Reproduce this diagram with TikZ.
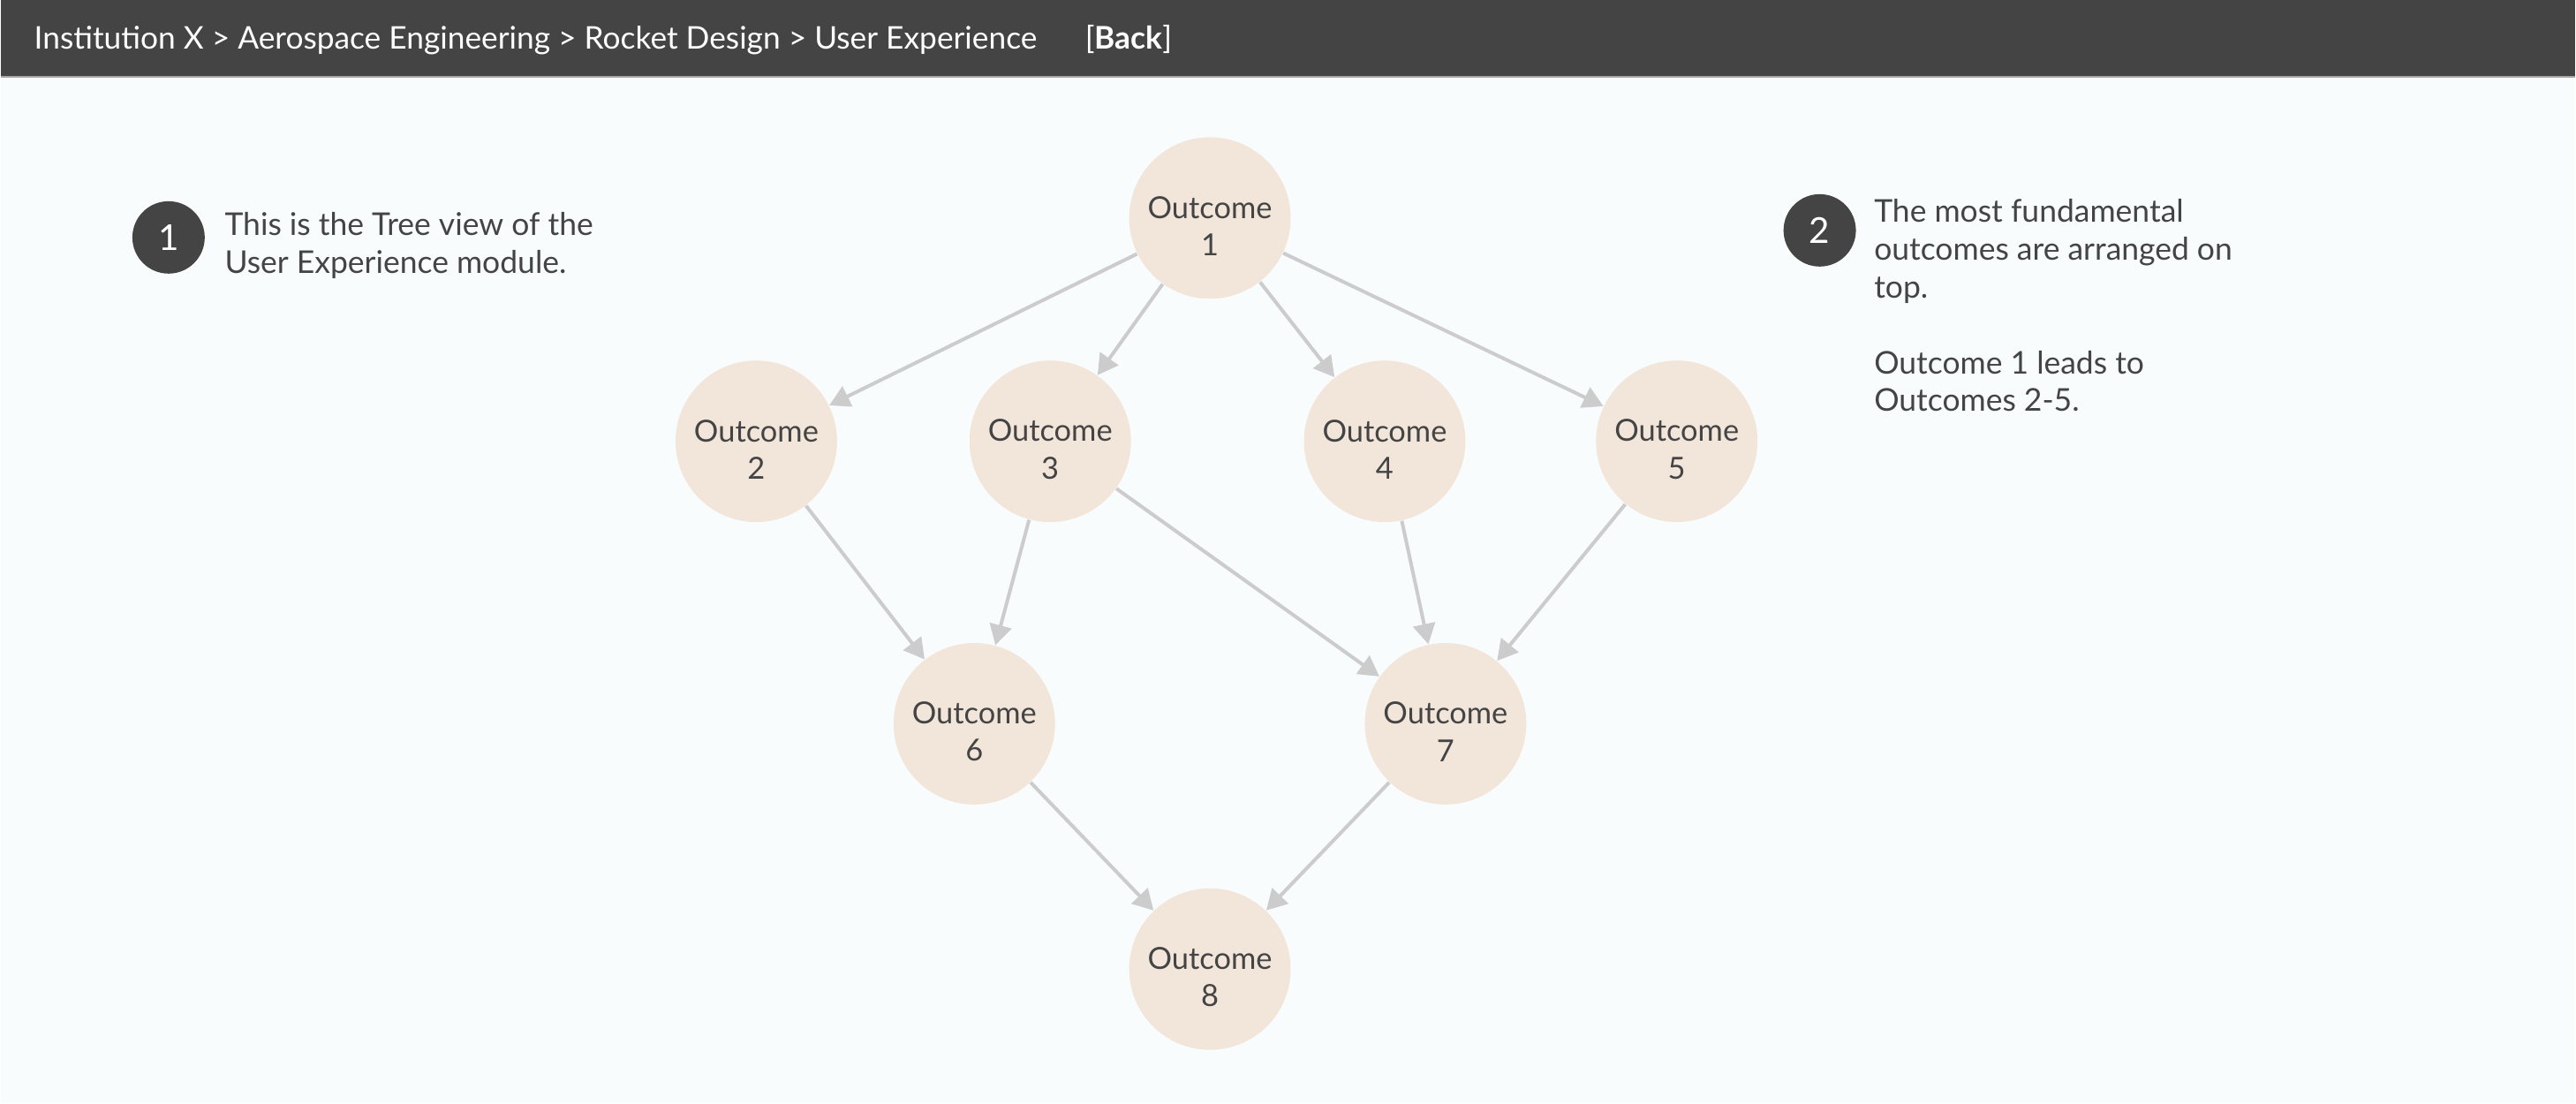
\documentclass[tikz,border=0pt]{standalone}
\usepackage{fontspec}
\setmainfont{Lato}
\usetikzlibrary{arrows.meta}
\definecolor{barra}{HTML}{444444}
\definecolor{sfondo}{HTML}{F9FCFD}
\definecolor{pesca}{HTML}{F2E5DA}
\definecolor{grigiofreccia}{HTML}{CCCCCC}
\definecolor{testo}{HTML}{444444}
\newcommand{\esito}[1]{\rule{0pt}{0.43cm}Outcome\\#1}

\begin{document}
\begin{tikzpicture}[
        every node/.style={font=\fontsize{9.8}{12}\selectfont, text=testo},
        outcome/.style={circle, fill=pesca, minimum size=1.83cm, inner sep=0pt, align=center},
        badge/.style={circle, fill=barra, minimum size=0.82cm, inner sep=0pt, text=white, font=\fontsize{11.5}{12}\selectfont},
        nota/.style={anchor=north west, align=left, inner sep=0pt, font=\fontsize{10.1}{12.2}\selectfont},
        percorso/.style={anchor=base west, inner sep=0pt, text=white, font=\fontsize{10.05}{12}\selectfont},
        freccia/.style={draw=grigiofreccia, line width=0.04cm, -{Triangle[length=0.23cm, width=0.25cm]}}
    ]

        % Sfondo e barra in alto
        \fill[sfondo] (0,0) rectangle (29.17,-12.5);
        \fill[barra] (0,0) rectangle (29.17,-0.86);
        \draw[gray!70, line width=0.02cm] (0,-0.87) -- (29.17,-0.87);

        % Percorso
        \node[percorso] (briciole) at (0.37,-0.56) {Institution X > Aerospace Engineering > Rocket Design > User Experience};
        \node[percorso] (back) at (12.28,-0.56) {[\textbf{Back}]};

        % Esiti
        \node[outcome] (o1) at (13.70,-2.47) {\esito{1}};
        \node[outcome] (o2) at (8.56,-5.00) {\esito{2}};
        \node[outcome] (o3) at (11.89,-5.00) {\esito{3}};
        \node[outcome] (o4) at (15.68,-5.00) {\esito{4}};
        \node[outcome] (o5) at (18.99,-5.00) {\esito{5}};
        \node[outcome] (o6) at (11.03,-8.20) {\esito{6}};
        \node[outcome] (o7) at (16.37,-8.20) {\esito{7}};
        \node[outcome] (o8) at (13.70,-10.98) {\esito{8}};

        % Frecce
        \foreach \da/\a in {o1/o2, o1/o3, o1/o4, o1/o5, o2/o6, o3/o6, o3/o7, o4/o7, o5/o7, o6/o8, o7/o8}
            \draw[freccia] (\da) -- (\a);

        % Note (a sinistra e a destra)
        \node[badge] (b1) at (1.90,-2.69) {1};
        \node[nota] (n1) at (2.53,-2.40) {This is the Tree view of the\\User Experience module.};
        \node[badge] (b2) at (20.61,-2.61) {2};
        \node[nota] (n2) at (21.22,-2.25) {The most fundamental\\outcomes are arranged on\\top.\\[12.2pt]Outcome 1 leads to\\Outcomes 2-5.};

    \end{tikzpicture}
\end{document}
